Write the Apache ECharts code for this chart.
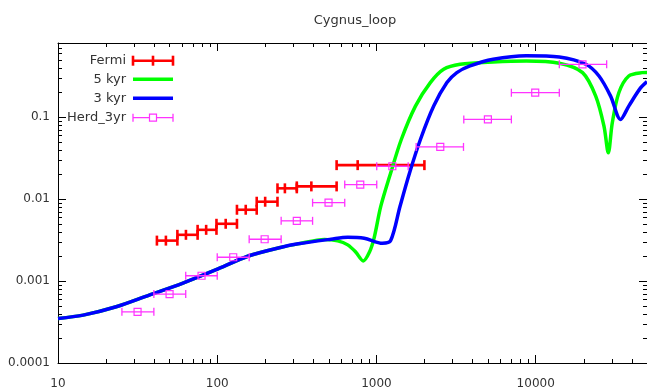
<!DOCTYPE html>
<html>
<head>
<meta charset="utf-8">
<script src="https://cdn.jsdelivr.net/npm/echarts@6/dist/echarts.min.js"></script>
<style>
html,body{margin:0;padding:0;background:#fff;}
#chart{width:647px;height:391px;}
</style>
</head>
<body>
<div id="chart"></div>
<script>
// ---- Data ----
const xMajorTicks = [10, 100, 1000, 10000];
const xTickLabels = ['10', '100', '1000', '10000'];
const yMajorTicks = [0.0001, 0.001, 0.01, 0.1];
const yTickLabels = ['0.0001', '0.001', '0.01', '0.1'];

const fermiX  = [47.6, 63.6, 85.2, 113, 151, 200, 266, 390, 762];
const fermiLo = [41.8, 56.2, 75.3, 98.9, 133, 177, 239, 316, 562];
const fermiHi = [56.2, 75.3, 98.9, 133, 177, 239, 316, 562, 2000];
const fermiY  = [0.00311, 0.00366, 0.00421, 0.00499, 0.0074, 0.00927, 0.0135, 0.01426, 0.0259];

const herdX  = [31.6, 50.2, 79.7, 126, 198.5, 316, 500, 791, 1258, 2516, 5010, 9930, 19680];
const herdLo = [25.2, 40.0, 63.4, 100, 158.7, 252, 397, 632, 1004, 1775, 3535, 7035, 14070];
const herdHi = [40.0, 63.4, 100, 158.7, 252, 397, 632, 1004, 1582, 3520, 7035, 14070, 27900];
const herdY  = [0.000421, 0.000693, 0.00116, 0.00195, 0.00323, 0.00542, 0.00902, 0.0150, 0.0251, 0.0432, 0.0935, 0.198, 0.44];

const kyr3X = [10, 14.4, 23.2, 37.4, 60.4, 97.4, 157, 253, 322, 519, 660, 838, 1090, 1228, 1405, 1613, 1888, 2288, 2770, 3197, 3868, 5411, 8727, 14070, 20630, 24970, 29540, 34100, 38410, 45420, 50000];
const kyr3Y = [3.5e-4, 3.84e-4, 4.85e-4, 6.74e-4, 9.37e-4, 1.363e-3, 2.02e-3, 2.585e-3, 2.84e-3, 3.24e-3, 3.43e-3, 3.33e-3, 2.89e-3, 3.12e-3, 8.12e-3, 0.0208, 0.0532, 0.136, 0.263, 0.348, 0.42, 0.507, 0.56, 0.54, 0.44, 0.3167, 0.180, 0.0935, 0.136, 0.225, 0.27];

const kyr5X = [10, 14.4, 23.2, 37.4, 60.4, 97.4, 157, 253, 322, 472, 571, 660, 740, 826, 904, 967, 1064, 1228, 1432, 1757, 2179, 2641, 3351, 5411, 8727, 14070, 19690, 23820, 26840, 28580, 30270, 33270, 38410, 46540, 50000];
const kyr5Y = [3.5e-4, 3.84e-4, 4.85e-4, 6.74e-4, 9.37e-4, 1.363e-3, 2.02e-3, 2.585e-3, 2.84e-3, 3.22e-3, 3.09e-3, 2.76e-3, 2.26e-3, 1.757e-3, 2.26e-3, 3.36e-3, 8.12e-3, 0.0208, 0.0532, 0.136, 0.263, 0.3825, 0.44, 0.47, 0.483, 0.453, 0.348, 0.180, 0.0774, 0.0366, 0.0852, 0.198, 0.3167, 0.348, 0.35];

// ---- Minor tick values (log decades 2..9) ----
const X_MIN = 10, X_MAX = 50000, Y_MIN = 0.0001, Y_MAX = 0.8;
function minors(decades, maxV) {
  const out = [];
  decades.forEach(d => { for (let k = 2; k <= 9; k++) { const v = k * d; if (v <= maxV) out.push(v); } });
  return out;
}
const xMinor = minors(xMajorTicks, X_MAX);
const yMinor = minors(yMajorTicks, Y_MAX);

const FONT = '"DejaVu Sans", sans-serif';
const TXT = '#333';

function labelFor(ticks, labels) {
  return function (v) {
    for (let i = 0; i < ticks.length; i++) {
      if (Math.abs(Math.log10(v) - Math.log10(ticks[i])) < 1e-6) return labels[i];
    }
    return '';
  };
}

function mkX(position, withLabel) {
  return {
    type: 'log', logBase: 10, min: X_MIN, max: X_MAX, position: position, gridIndex: 0,
    axisLine: { show: true, lineStyle: { color: '#000', width: 1 } },
    axisTick: { show: true, inside: true, length: 8, lineStyle: { color: '#000', width: 1 }, customValues: xMajorTicks },
    axisLabel: { show: withLabel, customValues: xMajorTicks, formatter: labelFor(xMajorTicks, xTickLabels),
                 margin: 15, fontFamily: FONT, fontSize: 12, color: TXT },
    splitLine: { show: false }, minorTick: { show: false }
  };
}
function mkY(position, withLabel) {
  return {
    type: 'log', logBase: 10, min: Y_MIN, max: Y_MAX, position: position, gridIndex: 0,
    axisLine: { show: true, lineStyle: { color: '#000', width: 1 } },
    axisTick: { show: true, inside: true, length: 8, lineStyle: { color: '#000', width: 1 }, customValues: yMajorTicks },
    axisLabel: { show: withLabel, customValues: yMajorTicks, formatter: labelFor(yMajorTicks, yTickLabels),
                 margin: 8, fontFamily: FONT, fontSize: 12, color: TXT },
    splitLine: { show: false }, minorTick: { show: false }
  };
}

function errBar(color, lw, cap, kind) {
  return function (params, api) {
    const xc = api.value(0), y = api.value(1), lo = api.value(2), hi = api.value(3);
    const pc = api.coord([xc, y]), pl = api.coord([lo, y]), ph = api.coord([hi, y]);
    const st = { stroke: color, lineWidth: lw, fill: null };
    const ch = [
      { type: 'line', shape: { x1: pl[0], y1: pl[1], x2: ph[0], y2: ph[1] }, style: st },
      { type: 'line', shape: { x1: pl[0], y1: pl[1] - cap, x2: pl[0], y2: pl[1] + cap }, style: st },
      { type: 'line', shape: { x1: ph[0], y1: ph[1] - cap, x2: ph[0], y2: ph[1] + cap }, style: st }
    ];
    if (kind === 'tick') {
      ch.push({ type: 'line', shape: { x1: pc[0], y1: pc[1] - cap, x2: pc[0], y2: pc[1] + cap }, style: st });
    } else {
      ch.push({ type: 'rect', shape: { x: pc[0] - 3.5, y: pc[1] - 3.5, width: 7, height: 7 },
                style: { stroke: color, lineWidth: 1.2, fill: 'rgba(255,255,255,0)' } });
    }
    return { type: 'group', children: ch };
  };
}

// minor ticks on all four sides (axis decoration), positioned through the axes
function minorTickRender(params, api) {
  const isX = api.value(2) === 0;
  const v = isX ? api.value(0) : api.value(1);
  const L = 4, st = { stroke: '#000', lineWidth: 1 };
  if (isX) {
    const b = api.coord([v, Y_MIN]), t = api.coord([v, Y_MAX]);
    const x = Math.round(b[0]) + 0.5;
    return { type: 'group', children: [
      { type: 'line', shape: { x1: x, y1: b[1], x2: x, y2: b[1] - L }, style: st },
      { type: 'line', shape: { x1: x, y1: t[1], x2: x, y2: t[1] + L }, style: st } ] };
  } else {
    const l = api.coord([X_MIN, v]), r = api.coord([X_MAX, v]);
    const y = Math.round(l[1]) + 0.5;
    return { type: 'group', children: [
      { type: 'line', shape: { x1: l[0], y1: y, x2: l[0] + L, y2: y }, style: st },
      { type: 'line', shape: { x1: r[0], y1: y, x2: r[0] - L, y2: y }, style: st } ] };
  }
}
const minorTickData = xMinor.map(v => [v, Y_MIN, 0]).concat(yMinor.map(v => [X_MIN, v, 1]));

const RED = '#ff0000', GREEN = '#00ff00', BLUE = '#0000ff', PINK = '#ff33ff';

const chart = echarts.init(document.getElementById('chart'), null, { renderer: 'canvas' });

// Legend (drawn as graphics)
const legX = 126, legL = 133, legR = 173, legMid = 153;
const legRows = [60.7, 79.3, 98.3, 117.7];
const legendNames = ['Fermi', '5 kyr', '3 kyr', 'Herd_3yr'];
const legG = [];
legendNames.forEach((n, i) => {
  legG.push({ type: 'text', x: legX, y: legRows[i],
    style: { text: n, textAlign: 'right', textVerticalAlign: 'middle', font: '13px ' + FONT, fill: TXT } });
});
function legLine(y, color, lw) { return { type: 'line', shape: { x1: legL, y1: y, x2: legR, y2: y }, style: { stroke: color, lineWidth: lw } }; }
function legV(x, y, c, color, lw) { return { type: 'line', shape: { x1: x, y1: y - c, x2: x, y2: y + c }, style: { stroke: color, lineWidth: lw } }; }
legG.push(legLine(legRows[0], RED, 2.6), legV(legL, legRows[0], 5, RED, 2.6), legV(legR, legRows[0], 5, RED, 2.6), legV(legMid, legRows[0], 5, RED, 2.6));
legG.push(legLine(legRows[1], GREEN, 3.5));
legG.push(legLine(legRows[2], BLUE, 3.5));
legG.push(legLine(legRows[3], PINK, 1.3), legV(legL, legRows[3], 4, PINK, 1.3), legV(legR, legRows[3], 4, PINK, 1.3),
  { type: 'rect', shape: { x: legMid - 3.5, y: legRows[3] - 3.5, width: 7, height: 7 }, style: { stroke: PINK, lineWidth: 1.2, fill: '#fff' } });

chart.setOption({
  animation: false,
  backgroundColor: '#fff',
  grid: { left: 58, top: 43, right: -5, bottom: 28, containLabel: false },
  xAxis: [ mkX('bottom', true), mkX('top', false) ],
  yAxis: [ mkY('left', true), mkY('right', false) ],
  graphic: [
    { type: 'text', x: 355, y: 20.5, style: { text: 'Cygnus_loop', textAlign: 'center', textVerticalAlign: 'middle', font: '13px ' + FONT, fill: TXT } },
    { type: 'group', children: legG }
  ],
  series: [
    { name: 'minorTicks', type: 'custom', xAxisIndex: 0, yAxisIndex: 0, silent: true, clip: false,
      renderItem: minorTickRender, data: minorTickData, z: 1 },
    { name: 'Fermi', type: 'custom', xAxisIndex: 0, yAxisIndex: 0, renderItem: errBar(RED, 2.6, 5, 'tick'),
      encode: { x: [0, 2, 3], y: 1 }, data: fermiX.map((x, i) => [x, fermiY[i], fermiLo[i], fermiHi[i]]), z: 2 },
    { name: '5 kyr', type: 'line', xAxisIndex: 0, yAxisIndex: 0, showSymbol: false, smooth: 0.3,
      lineStyle: { color: GREEN, width: 3.5 }, data: kyr5X.map((x, i) => [x, kyr5Y[i]]), z: 3 },
    { name: '3 kyr', type: 'line', xAxisIndex: 0, yAxisIndex: 0, showSymbol: false, smooth: 0.3,
      lineStyle: { color: BLUE, width: 3.5 }, data: kyr3X.map((x, i) => [x, kyr3Y[i]]), z: 4 },
    { name: 'Herd_3yr', type: 'custom', xAxisIndex: 0, yAxisIndex: 0, renderItem: errBar(PINK, 1.3, 4, 'square'),
      encode: { x: [0, 2, 3], y: 1 }, data: herdX.map((x, i) => [x, herdY[i], herdLo[i], herdHi[i]]), z: 5 }
  ]
});
</script>
</body>
</html>
